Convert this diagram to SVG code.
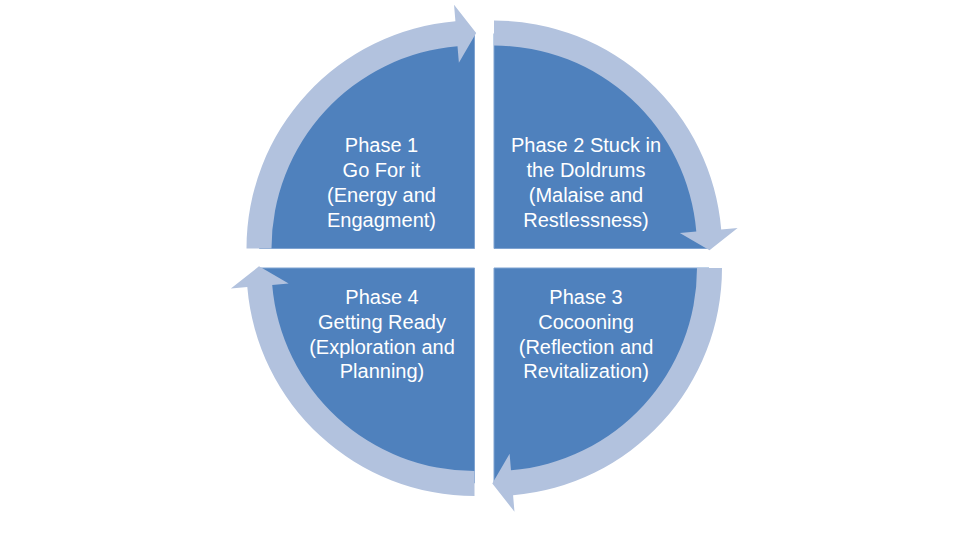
<svg xmlns="http://www.w3.org/2000/svg" xmlns:xlink="http://www.w3.org/1999/xlink" width="975" height="539" viewBox="0 0 975 539">
<style>
.q{fill:#4F81BD;stroke:#7FA3D1;stroke-width:1}
.arc{fill:#B2C2DE}
.t{font-family:"Liberation Sans",Arial,sans-serif;font-size:20px;fill:#FFFFFF;text-anchor:middle}
</style>
<defs>
<path id="arcArrow" d="M -228 0 A 228 228 0 0 1 -19.08 -227.2 L -20.46 -243.64 L 1.69 -215.5 L -15.61 -185.85 L -16.99 -202.29 A 203 203 0 0 0 -203 0 Z"/>
</defs>
<rect width="975" height="539" fill="#FFFFFF"/>
<g id="phase1">
<path class="q" d="M 474.5 248.5 L 259.5 248.5 A 215 215 0 0 1 474.5 33.5 Z"/>
</g>
<g id="phase2">
<path class="q" d="M 494 248.5 L 494 33.5 A 215 215 0 0 1 709 248.5 Z"/>
</g>
<g id="phase3">
<path class="q" d="M 494 268 L 709 268 A 215 215 0 0 1 494 483 Z"/>
</g>
<g id="phase4">
<path class="q" d="M 474.5 268 L 474.5 483 A 215 215 0 0 1 259.5 268 Z"/>
</g>
<g id="connectors">
<use xlink:href="#arcArrow" class="arc" transform="translate(474.5,248.5)"/>
<use xlink:href="#arcArrow" class="arc" transform="translate(494,248.5) rotate(90)"/>
<use xlink:href="#arcArrow" class="arc" transform="translate(494,268) rotate(180)"/>
<use xlink:href="#arcArrow" class="arc" transform="translate(474.5,268) rotate(270)"/>
</g>
<g id="labels">
<text class="t" x="381.5" y="151.5">Phase 1</text>
<text class="t" x="381.5" y="176.5">Go For it</text>
<text class="t" x="381.5" y="201.5">(Energy and</text>
<text class="t" x="381.5" y="226.5">Engagment)</text>
<text class="t" x="586" y="151.5">Phase 2 Stuck in</text>
<text class="t" x="586" y="176.5">the Doldrums</text>
<text class="t" x="586" y="201.5">(Malaise and</text>
<text class="t" x="586" y="226.5">Restlessness)</text>
<text class="t" x="586" y="303.5">Phase 3</text>
<text class="t" x="586" y="328.5">Cocooning</text>
<text class="t" x="586" y="353.5">(Reflection and</text>
<text class="t" x="586" y="378">Revitalization)</text>
<text class="t" x="382" y="303.5">Phase 4</text>
<text class="t" x="382" y="328.5">Getting Ready</text>
<text class="t" x="382" y="353.5">(Exploration and</text>
<text class="t" x="382" y="378">Planning)</text>
</g>
</svg>
